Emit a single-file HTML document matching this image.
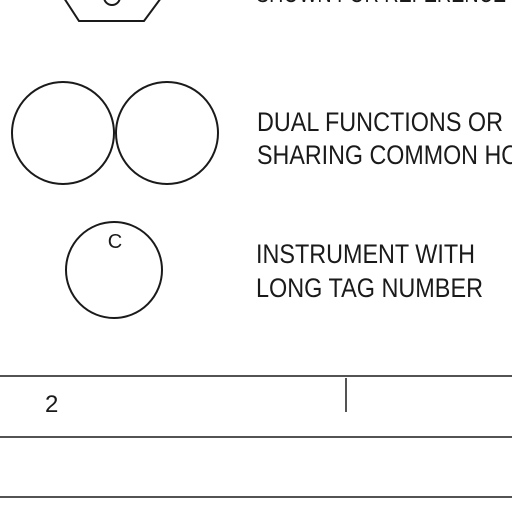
<!DOCTYPE html>
<html><head><meta charset="utf-8"><style>
html,body{margin:0;padding:0;background:#fff;}
svg{display:block;}
text{font-family:"Liberation Sans",sans-serif;fill:#1a1a1a;}
</style></head><body>
<svg width="512" height="512" viewBox="0 0 512 512">
<g fill="none" stroke="#1a1a1a" stroke-width="2">
<polyline points="64,-2 79,21 144,21 161,-2"/>
<circle cx="112" cy="-3" r="8"/>
<circle cx="63" cy="133" r="51"/>
<circle cx="167" cy="133" r="51"/>
<circle cx="114" cy="270" r="48"/>
<line x1="0" y1="376" x2="512" y2="376" stroke-width="1.5"/>
<line x1="0" y1="437" x2="512" y2="437" stroke-width="1.5"/>
<line x1="0" y1="497" x2="512" y2="497" stroke-width="1.5"/>
<line x1="346" y1="378" x2="346" y2="412" stroke-width="1.5"/>
</g>
<text x="256" y="2" font-size="26" fill="#999" textLength="250" lengthAdjust="spacingAndGlyphs">SHOWN FOR REFERENCE</text>
<text x="257" y="131" font-size="27" textLength="246" lengthAdjust="spacingAndGlyphs">DUAL FUNCTIONS OR</text>
<text x="257" y="164" font-size="27" textLength="336" lengthAdjust="spacingAndGlyphs">SHARING COMMON HOUSING</text>
<text x="115" y="248" font-size="20" text-anchor="middle">C</text>
<text x="256" y="263" font-size="27" textLength="219" lengthAdjust="spacingAndGlyphs">INSTRUMENT WITH</text>
<text x="256" y="297" font-size="27" textLength="227" lengthAdjust="spacingAndGlyphs">LONG TAG NUMBER</text>
<text x="45" y="412" font-size="24">2</text>
</svg>
</body></html>
